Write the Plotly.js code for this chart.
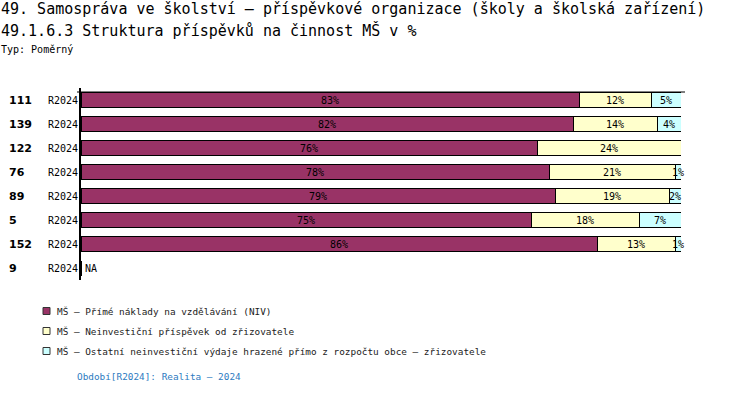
<!DOCTYPE html>
<html><head><meta charset="utf-8">
<script src="https://cdn.plot.ly/plotly-3.0.1.min.js"></script>
<style>html,body{margin:0;padding:0;background:#fff}#chart{width:750px;height:394px}</style>
</head><body><div id="chart"></div>
<script>
const ids = ["111","139","122","76","89","5","152","9"];
const periods = ["R2024","R2024","R2024","R2024","R2024","R2024","R2024","R2024"];
const prime = [83,82,76,78,79,75,86,null];
const prispevek = [12,14,24,21,19,18,13,null];
const ostatni = [5,4,0,1,2,7,1,null];
const seriesNames = [
  "MŠ – Přímé náklady na vzdělávání (NIV)",
  "MŠ – Neinvestiční příspěvek od zřizovatele",
  "MŠ – Ostatní neinvestiční výdaje hrazené přímo z rozpočtu obce – zřizovatele"
];
const colors = ["#993366","#FFFFCC","#CCFFFF"];
const titleLine1 = "49. Samospráva ve školství – příspěvkové organizace (školy a školská zařízení)";
const titleLine2 = "49.1.6.3 Struktura příspěvků na činnost MŠ v %";
const typText = "Typ: Poměrný";
const footer = "Období[R2024]: Realita – 2024";

const mono = "DejaVu Sans Mono";
const cats = ids.map((d,i)=>i);
const px = x => (x-81)/600;
const py = y => (280-y)/192;

const data = [prime, prispevek, ostatni].map((vals, k) => ({
  type: 'bar', orientation: 'h',
  y: cats, x: vals.map(v => v == null ? 0 : v),
  name: seriesNames[k],
  marker: {color: colors[k], line: {color: '#000', width: 1}},
  text: vals.map(v => (v == null || v === 0) ? '' : v + '%'),
  textposition: 'inside', insidetextanchor: 'middle', textangle: 0,
  textfont: {family: mono, size: 10, color: '#000'},
  cliponaxis: false, hoverinfo: 'skip', showlegend: false
}));

const ann = [];
ann.push({text: titleLine1, x: px(0), y: py(9), xref:'paper', yref:'paper', xanchor:'left', yanchor:'middle', showarrow:false, font:{family:mono,size:15,color:'#000'}, borderpad:0});
ann.push({text: titleLine2, x: px(0), y: py(30), xref:'paper', yref:'paper', xanchor:'left', yanchor:'middle', showarrow:false, font:{family:mono,size:15,color:'#000'}, borderpad:0});
ann.push({text: typText, x: px(0), y: py(49), xref:'paper', yref:'paper', xanchor:'left', yanchor:'middle', showarrow:false, font:{family:mono,size:10,color:'#000'}, borderpad:0});
ids.forEach((id,i)=>{
  ann.push({text: '<b>'+id+'</b>', x: px(8), y: i, xref:'paper', yref:'y', xanchor:'left', yanchor:'middle', showarrow:false, font:{family:'DejaVu Sans',size:11,color:'#000'}, borderpad:0});
  ann.push({text: periods[i], x: px(47), y: i, xref:'paper', yref:'y', xanchor:'left', yanchor:'middle', showarrow:false, font:{family:mono,size:10,color:'#000'}, borderpad:0});
  if (prime[i] == null) ann.push({text: 'NA', x: px(84), y: i, xref:'paper', yref:'y', xanchor:'left', yanchor:'middle', showarrow:false, font:{family:mono,size:10,color:'#000'}, borderpad:0});
});
const shapes = [];
const legY = [311, 331, 351];
seriesNames.forEach((n,k)=>{
  shapes.push({type:'rect', xref:'paper', yref:'paper', x0:px(43), x1:px(50), y0:py(legY[k]+3.5), y1:py(legY[k]-3.5), fillcolor: colors[k], line:{color:'#333', width:1}});
  ann.push({text: n, x: px(56), y: py(legY[k]), xref:'paper', yref:'paper', xanchor:'left', yanchor:'middle', showarrow:false, font:{family:mono,size:9.4,color:'#222'}, borderpad:0});
});
ann.push({text: footer, x: px(76), y: py(376), xref:'paper', yref:'paper', xanchor:'left', yanchor:'middle', showarrow:false, font:{family:mono,size:9.4,color:'#2e7bbf'}, borderpad:0});
shapes.push({type:'line', xref:'paper', yref:'paper', x0:px(77), x1:px(685), y0:py(92), y1:py(92), line:{color:'#000', width:1}});

const layout = {
  width: 750, height: 394,
  margin: {l: 81, r: 69, t: 88, b: 114, pad: 0},
  paper_bgcolor: '#fff', plot_bgcolor: '#fff',
  barmode: 'stack', bargap: 0.375,
  showlegend: false,
  xaxis: {range: [0, 100], showgrid: false, zeroline: false, showticklabels: false, showline: false, fixedrange: true},
  yaxis: {range: [7.5, -0.5], type: 'linear', showgrid: false, zeroline: false, showticklabels: false, showline: true, linecolor: '#000', linewidth: 2, ticks: '', fixedrange: true},
  uniformtext: {mode: 'show', minsize: 10},
  annotations: ann, shapes: shapes,
  font: {family: mono}
};
Plotly.newPlot('chart', data, layout, {displayModeBar: false, staticPlot: true});
</script></body></html>
